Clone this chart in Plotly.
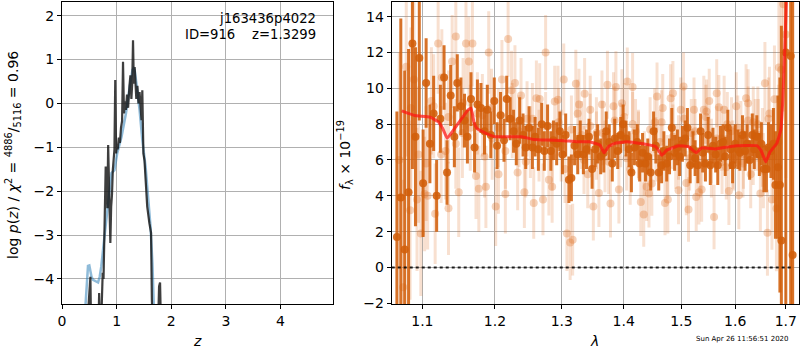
import plotly.graph_objects as go

# ---------------- left panel: log p(z) ----------------
PZ_Z = [0.470, 0.490, 0.505, 0.520, 0.530, 0.600, 0.670, 0.680, 0.690, 0.720,
        0.735, 0.745, 0.760, 0.775, 0.790, 0.800, 0.815, 0.830, 0.845, 0.860,
        0.870, 0.885, 0.900, 0.915, 0.930, 0.945, 0.960, 0.975, 0.990, 1.005,
        1.020, 1.040, 1.060, 1.080, 1.100, 1.117, 1.135, 1.150, 1.170, 1.190,
        1.210, 1.235, 1.252, 1.270, 1.285, 1.300, 1.315, 1.330, 1.345, 1.360,
        1.380, 1.400, 1.420, 1.440, 1.455, 1.470, 1.490, 1.510, 1.530, 1.560,
        1.600, 1.630, 1.645, 1.660, 1.760, 1.777, 1.795, 1.810]
PZ_LOGP = [-4.9, -4.6, -4.3, -3.95, -4.9, -5.5, -4.9, -4.32, -4.9, -4.9,
           -4.24, -3.86, -4.0, -2.88, -2.12, -1.44, -1.74, -2.39, -0.95, -1.9,
           -2.95, -3.18, -2.35, -2.08, -1.52, -1.17, -1.05, 0.53, -1.14, -0.95,
           -1.05, -0.78, -0.90, -0.55, -0.40, 0.95, -0.23, 0.05, -0.15, 0.20,
           -0.10, 0.40, 0.64, 0.10, 0.45, 1.44, 0.45, 0.83, 0.30, 0.10,
           0.40, 0.00, 0.26, -0.20, -0.38, 0.30, -1.14, -1.30, -1.74, -2.35,
           -2.73, -2.95, -4.47, -5.0, -5.0, -4.17, -4.08, -5.0]
SMOOTH_Z = [0.430, 0.455, 0.476, 0.500, 0.540, 0.568, 0.620, 0.660, 0.690, 0.720,
            0.750, 0.780, 0.840, 0.905, 0.960, 1.010, 1.090, 1.170, 1.240, 1.290,
            1.310, 1.330, 1.370, 1.420, 1.470, 1.530, 1.575, 1.620, 1.655, 1.680]
SMOOTH_LOGP = [-4.6, -4.0, -3.70, -3.69, -3.95, -4.02, -4.06, -4.08, -3.95, -3.71,
               -3.35, -3.03, -2.35, -1.59, -1.52, -1.14, -0.76, -0.23, 0.38, 0.76,
               0.80, 0.76, 0.38, -0.15, -0.83, -1.44, -2.12, -2.80, -3.64, -4.6]

# ---------------- right panel: spectrum ----------------
DARK_WAVE = [1.067, 1.072, 1.077, 1.082, 1.087, 1.091, 1.096, 1.101, 1.105, 1.110,
             1.115, 1.119, 1.124, 1.129, 1.133, 1.138, 1.143, 1.147, 1.152, 1.157,
             1.161, 1.166, 1.171, 1.175, 1.180, 1.185, 1.189, 1.194, 1.199, 1.203,
             1.208, 1.213, 1.217, 1.222, 1.227, 1.231, 1.236, 1.241, 1.245, 1.250,
             1.255, 1.259, 1.264, 1.269, 1.273, 1.278, 1.283, 1.287, 1.292, 1.297,
             1.301, 1.306, 1.311, 1.315, 1.320, 1.325, 1.329, 1.334, 1.339, 1.343,
             1.348, 1.353, 1.357, 1.362, 1.367, 1.371, 1.376, 1.381, 1.385, 1.390,
             1.395, 1.399, 1.404, 1.409, 1.413, 1.418, 1.423, 1.427, 1.432, 1.437,
             1.441, 1.446, 1.451, 1.455, 1.460, 1.465, 1.469, 1.474, 1.479, 1.483,
             1.488, 1.493, 1.497, 1.502, 1.507, 1.511, 1.516, 1.521, 1.525, 1.530,
             1.535, 1.539, 1.544, 1.549, 1.553, 1.558, 1.563, 1.567, 1.572, 1.577,
             1.581, 1.586, 1.591, 1.595, 1.600, 1.605, 1.609, 1.614, 1.619, 1.623,
             1.628, 1.633, 1.637, 1.642, 1.647, 1.651, 1.656, 1.661, 1.665, 1.670,
             1.675, 1.679, 1.684, 1.688, 1.691, 1.700, 1.710, 1.714]
DARK_FLUX = [1.7, 3.9, 1.0, 4.2, 12.5, 7.3, 11.7, 4.7, 10.3, 6.9,
             8.6, 4.0, 8.3, 10.6, 5.3, 9.6, 7.3, 10.3, 9.0, 8.2,
             7.3, 9.4, 6.7, 9.1, 8.9, 7.6, 8.8, 7.4, 9.3, 6.8,
             8.5, 7.1, 9.4, 8.3, 7.6, 6.9, 8.2, 7.4, 6.7, 7.8,
             6.7, 7.3, 6.6, 8.0, 6.5, 7.9, 6.5, 7.1, 6.9, 7.6,
             6.3, 7.4, 4.9, 5.0, 6.8, 6.3, 7.2, 6.3, 6.6, 7.3,
             5.5, 6.6, 6.9, 6.2, 6.4, 7.6, 7.0, 5.8, 7.2, 6.5,
             7.4, 8.0, 7.2, 6.6, 5.3, 6.7, 7.0, 5.8, 6.4, 5.8,
             6.2, 5.3, 7.6, 6.8, 5.3, 5.7, 6.5, 5.8, 6.2, 7.8,
             6.4, 6.7, 6.2, 6.9, 7.2, 7.8, 5.7, 6.6, 6.1, 5.7,
             7.6, 6.4, 5.8, 7.4, 5.7, 6.8, 6.3, 5.7, 6.9, 7.0,
             6.2, 7.8, 6.6, 5.7, 6.9, 6.6, 6.4, 7.4, 6.5, 6.9,
             6.0, 7.4, 6.6, 7.3, 6.3, 6.9, 5.5, 5.5, 6.7, 6.5,
             6.9, 4.6, 5.6, 4.6, 1.5, 12.0, 11.8, 0.7]
DARK_ERR = [7.0, 10.0, 10.0, 8.0, 7.0, 5.0, 3.5, 3.0, 2.5, 2.2,
            2.1, 2.0, 1.9, 1.8, 1.8, 1.7, 1.7, 1.6, 1.6, 1.5,
            1.5, 1.5, 1.4, 1.4, 1.4, 1.3, 1.4, 1.3, 1.3, 1.3,
            1.3, 1.2, 1.3, 1.2, 1.2, 1.2, 1.3, 1.2, 1.2, 1.2,
            1.2, 1.1, 1.2, 1.2, 1.1, 1.2, 1.1, 1.1, 1.2, 1.1,
            1.1, 1.2, 1.3, 1.3, 1.1, 1.1, 1.0, 1.1, 1.1, 1.0,
            1.1, 1.0, 1.1, 1.0, 1.1, 1.1, 1.0, 1.0, 1.1, 1.0,
            1.0, 1.1, 1.0, 1.0, 1.1, 1.0, 1.0, 1.0, 1.1, 1.0,
            1.0, 1.0, 1.1, 1.0, 1.0, 1.0, 1.1, 1.0, 1.0, 1.1,
            1.0, 1.0, 1.1, 1.0, 1.0, 1.1, 1.0, 1.0, 1.0, 1.0,
            1.0, 1.1, 1.0, 1.0, 1.1, 1.0, 1.0, 1.1, 1.0, 1.0,
            1.1, 1.0, 1.1, 1.0, 1.1, 1.1, 1.0, 1.1, 1.1, 1.1,
            1.1, 1.2, 1.1, 1.2, 1.2, 1.2, 1.3, 1.3, 1.4, 1.5,
            2.0, 3.0, 4.0, 6.0, 12.0, 15.0, 15.0, 15.0]

LIGHT_WAVE = [1.070, 1.075, 1.079, 1.084, 1.089, 1.093, 1.098, 1.103, 1.107, 1.112,
              1.117, 1.121, 1.126, 1.131, 1.135, 1.140, 1.145, 1.149, 1.154, 1.159,
              1.163, 1.168, 1.173, 1.177, 1.182, 1.187, 1.191, 1.196, 1.201, 1.205,
              1.210, 1.215, 1.219, 1.224, 1.229, 1.233, 1.238, 1.243, 1.247, 1.252,
              1.257, 1.261, 1.266, 1.271, 1.275, 1.280, 1.285, 1.289, 1.294, 1.299,
              1.303, 1.308, 1.313, 1.317, 1.322, 1.327, 1.331, 1.336, 1.341, 1.345,
              1.350, 1.355, 1.359, 1.364, 1.369, 1.373, 1.378, 1.383, 1.387, 1.392,
              1.397, 1.401, 1.406, 1.411, 1.415, 1.420, 1.425, 1.429, 1.434, 1.439,
              1.443, 1.448, 1.453, 1.457, 1.462, 1.467, 1.471, 1.476, 1.481, 1.485,
              1.490, 1.495, 1.499, 1.504, 1.509, 1.513, 1.518, 1.523, 1.527, 1.532,
              1.537, 1.541, 1.546, 1.551, 1.555, 1.560, 1.565, 1.569, 1.574, 1.579,
              1.583, 1.588, 1.593, 1.597, 1.602, 1.607, 1.611, 1.616, 1.621, 1.625,
              1.630, 1.635, 1.639, 1.644, 1.649, 1.653, 1.658, 1.663, 1.667, 1.672,
              1.677, 1.681, 1.686, 1.691, 1.695, 1.700]
LIGHT_FLUX = [6.0, -1.1, 11.2, 3.2, 10.5, 3.8, 1.9, 4.1, 4.0, 9.3,
              3.0, 12.5, 10.6, 6.5, 3.3, 11.5, 12.9, 4.2, 7.5, 12.5,
              11.5, 12.5, 5.1, 4.4, 8.5, 4.5, 12.0, 7.2, 3.4, 5.2,
              10.5, 4.1, 12.75, 9.9, 10.3, 5.3, 9.6, 4.2, 8.3, 7.0,
              3.6, 9.45, 9.4, 3.8, 12.0, 4.9, 4.5, 9.26, 9.36, 6.8,
              10.5, 1.9, 1.4, 1.55, 10.25, 9.1, 7.4, 9.7, 5.2, 8.8,
              3.4, 7.5, 4.16, 9.1, 6.2, 10.2, 3.57, 9.0, 10.07, 4.35,
              9.17, 8.4, 10.38, 5.5, 10.07, 7.6, 6.8, 3.66, 2.95, 4.5,
              4.13, 4.69, 8.1, 9.54, 7.0, 8.9, 3.6, 3.8, 9.45, 9.73,
              6.2, 4.31, 8.8, 10.1, 4.72, 3.23, 7.5, 8.8, 3.94, 4.2,
              4.35, 8.8, 8.7, 9.3, 5.8, 2.82, 9.73, 8.95, 7.2, 8.8,
              5.6, 4.27, 7.6, 6.1, 9.0, 4.03, 7.5, 6.3, 9.45, 9.17,
              5.2, 8.1, 7.4, 8.0, 4.13, 6.7, 10.29, 1.94, 8.6, 3.79,
              9.39, 3.29, 11.16, 11.04, 14.7, 13.0]
LIGHT_ERR = [6.0, 6.0, 5.0, 5.0, 4.5, 4.0, 3.5, 3.2, 3.0, 3.0,
             2.8, 2.8, 2.7, 2.7, 2.6, 2.6, 2.6, 2.5, 2.5, 2.5,
             2.5, 2.4, 2.4, 2.4, 2.3, 2.3, 2.3, 2.3, 2.2, 2.2,
             2.2, 2.2, 2.1, 2.2, 2.1, 2.1, 2.1, 2.0, 2.1, 2.0,
             2.0, 2.1, 2.0, 2.0, 2.1, 2.0, 2.0, 2.0, 1.9, 2.0,
             2.0, 2.1, 2.1, 2.0, 1.9, 2.0, 1.9, 2.0, 1.9, 1.9,
             1.9, 2.0, 1.9, 1.9, 2.0, 1.9, 1.9, 1.9, 2.0, 1.9,
             1.9, 1.9, 1.9, 2.0, 1.9, 1.8, 1.9, 1.9, 1.8, 1.9,
             1.9, 1.8, 1.9, 1.9, 1.8, 1.9, 1.8, 1.9, 1.9, 1.8,
             1.8, 1.9, 1.8, 1.9, 1.8, 1.8, 1.9, 1.8, 1.9, 1.8,
             1.8, 1.9, 1.8, 1.8, 1.9, 1.8, 1.9, 1.8, 1.8, 1.9,
             1.8, 1.9, 1.9, 1.8, 1.9, 1.9, 1.8, 1.9, 1.9, 1.9,
             1.9, 2.0, 2.0, 2.1, 2.1, 2.2, 2.3, 2.4, 2.6, 2.8,
             3.0, 3.5, 4.0, 5.0, 6.0, 8.0]

LIGHT2_WAVE = [1.085, 1.095, 1.105, 1.115, 1.125, 1.135, 1.145, 1.155, 1.165, 1.175,
               1.185, 1.195, 1.205, 1.215, 1.225, 1.235, 1.245, 1.255, 1.265, 1.275,
               1.285, 1.295, 1.305, 1.315, 1.325, 1.335, 1.345, 1.355, 1.365, 1.375,
               1.385, 1.395, 1.405, 1.415, 1.425, 1.435, 1.445, 1.455, 1.465, 1.475,
               1.485, 1.495, 1.505, 1.515, 1.525, 1.535, 1.545, 1.555, 1.565, 1.575,
               1.585, 1.595, 1.605, 1.615, 1.625, 1.635, 1.645, 1.655, 1.665, 1.675,
               1.685]
LIGHT2_FLUX = [8.9, 6.3, 5.8, 9.0, 6.3, 8.4, 6.9, 9.2, 7.8, 8.6,
               6.2, 8.9, 7.8, 6.5, 8.2, 7.6, 5.9, 8.3, 6.8, 7.9,
               6.2, 8.1, 5.5, 7.7, 8.6, 6.0, 7.9, 6.8, 7.5, 5.9,
               8.2, 7.4, 6.1, 8.0, 6.9, 5.8, 7.7, 6.6, 8.1, 5.6,
               7.3, 6.7, 8.3, 6.1, 7.6, 5.7, 8.4, 6.5, 7.2, 5.9,
               8.0, 6.3, 7.8, 5.8, 8.2, 6.6, 7.4, 5.4, 8.3, 6.2,
               7.0]
LIGHT2_ERR = [4.5, 3.8, 3.2, 2.9, 2.7, 2.6, 2.5, 2.5, 2.4, 2.3,
              2.3, 2.2, 2.2, 2.1, 2.1, 2.0, 2.0, 2.0, 2.0, 1.9,
              1.9, 1.9, 1.9, 1.9, 1.9, 1.9, 1.8, 1.9, 1.8, 1.8,
              1.9, 1.8, 1.8, 1.8, 1.9, 1.8, 1.8, 1.8, 1.8, 1.8,
              1.8, 1.8, 1.8, 1.8, 1.8, 1.8, 1.8, 1.8, 1.8, 1.8,
              1.8, 1.9, 1.8, 1.9, 1.9, 2.0, 2.0, 2.1, 2.3, 2.6,
              3.2]

MODEL_WAVE = [1.0732, 1.0900, 1.1102, 1.1210, 1.1270, 1.1332, 1.1402, 1.1500, 1.1620, 1.1661,
              1.1700, 1.1741, 1.1870, 1.2000, 1.2218, 1.2391, 1.2564, 1.2768, 1.3024, 1.3235,
              1.3440, 1.3609, 1.3675, 1.3745, 1.3850, 1.4050, 1.4350, 1.4550, 1.4654, 1.4741,
              1.4950, 1.5130, 1.5270, 1.5372, 1.5610, 1.5760, 1.6020, 1.6420, 1.6500, 1.6597,
              1.6683, 1.6818, 1.6898, 1.6939, 1.6979, 1.7006, 1.7020]
MODEL_FLUX = [8.74, 8.48, 8.39, 8.14, 7.77, 7.21, 7.58, 8.14, 8.80, 8.89,
              8.14, 7.77, 7.49, 7.30, 7.30, 7.30, 7.15, 7.11, 7.08, 7.02,
              7.02, 6.83, 6.40, 6.74, 6.93, 7.02, 6.89, 6.74, 6.27, 6.55,
              6.80, 6.74, 6.40, 6.68, 6.61, 6.68, 6.80, 6.80, 6.55, 5.90,
              6.46, 6.93, 7.68, 9.36, 12.2, 14.5, 16.0]

ZERO_WAVE = [1.0604, 1.7130]
ZERO_FLUX = [0.0, 0.0]

WAVE_TICKS = [1.1, 1.2, 1.3, 1.4, 1.5, 1.6, 1.7]
WAVE_TICKTEXT = ["1.1", "1.2", "1.3", "1.4", "1.5", "1.6", "1.7"]

FONT = "DejaVu Sans"
DARK = "rgba(210,95,10,0.88)"
LIGHT_BAR = "rgba(225,115,40,0.22)"
LIGHT_MK = "rgba(225,115,40,0.32)"

fig = go.Figure()

fig.add_trace(go.Scatter(x=SMOOTH_Z, y=SMOOTH_LOGP, mode="lines",
                         line=dict(color="rgba(31,119,180,0.5)", width=2.5),
                         xaxis="x", yaxis="y", showlegend=False))
fig.add_trace(go.Scatter(x=PZ_Z, y=PZ_LOGP, mode="lines",
                         line=dict(color="rgba(20,20,20,0.82)", width=2.2),
                         xaxis="x", yaxis="y", showlegend=False))

for w, f, e in [(LIGHT_WAVE, LIGHT_FLUX, LIGHT_ERR), (LIGHT2_WAVE, LIGHT2_FLUX, LIGHT2_ERR)]:
    fig.add_trace(go.Scatter(x=w, y=f, mode="markers",
                             marker=dict(color=LIGHT_MK, size=8, line=dict(width=0)),
                             error_y=dict(type="data", array=e, color=LIGHT_BAR,
                                          thickness=3, width=0),
                             xaxis="x2", yaxis="y2", showlegend=False))

fig.add_trace(go.Scatter(x=DARK_WAVE, y=DARK_FLUX, mode="markers",
                         marker=dict(color=DARK, size=8, line=dict(width=0)),
                         error_y=dict(type="data", array=DARK_ERR, color=DARK,
                                      thickness=3, width=0),
                         xaxis="x2", yaxis="y2", showlegend=False))

fig.add_trace(go.Scatter(x=MODEL_WAVE, y=MODEL_FLUX, mode="lines",
                         line=dict(color="rgba(255,20,20,0.72)", width=3, shape="spline", smoothing=0.3),
                         xaxis="x2", yaxis="y2", showlegend=False))

fig.add_trace(go.Scatter(x=ZERO_WAVE, y=ZERO_FLUX, mode="lines",
                         line=dict(color="rgba(0,0,0,0.85)", width=2, dash="dot"),
                         xaxis="x2", yaxis="y2", showlegend=False))

axis_common = dict(showline=True, linecolor="black", linewidth=1.2, mirror=True,
                   ticks="outside", ticklen=4, tickwidth=1, tickcolor="black",
                   showgrid=True, gridcolor="#b0b0b0", gridwidth=1, zeroline=False,
                   automargin=False,
                   tickfont=dict(family=FONT, size=14, color="black"))

fig.update_layout(
    width=800, height=350,
    autosize=False,
    margin=dict(l=62, r=1, t=2, b=46, autoexpand=False),
    paper_bgcolor="white", plot_bgcolor="white",
    font=dict(family=FONT, size=14, color="black"),
    xaxis=dict(domain=[0, 0.3681], range=[0, 4.966], tickvals=[0, 1, 2, 3, 4],
               anchor="y", **axis_common),
    yaxis=dict(domain=[0, 1], range=[-4.57, 2.31], tickvals=[-4, -3, -2, -1, 0, 1, 2],
               anchor="x", **axis_common),
    xaxis2=dict(domain=[0.4474, 1], type="log",
                range=[0.02547, 0.23731], tickvals=WAVE_TICKS, ticktext=WAVE_TICKTEXT,
                anchor="y2", **axis_common),
    yaxis2=dict(domain=[0, 1], range=[-2.04, 14.82], tickvals=[-2, 0, 2, 4, 6, 8, 10, 12, 14],
                anchor="x2", **axis_common),
)

ann = [
    dict(text="j163436p4022", x=0.3478, y=0.9440, xref="paper", yref="paper",
         xanchor="right", yanchor="middle", showarrow=False, font=dict(size=13.2)),
    dict(text="ID=916\u00a0\u00a0\u00a0\u00a0z=1.3299", x=0.3478, y=0.8930, xref="paper", yref="paper",
         xanchor="right", yanchor="middle", showarrow=False, font=dict(size=13.2)),
    dict(text="log <i>p</i>(<i>z</i>) / <i>χ</i><sup>2</sup> = <sup>4886</sup>/<sub>5116</sub> = 0.96",
         x=-0.0665, y=0.4934, xref="paper", yref="paper", textangle=-90,
         xanchor="center", yanchor="middle", showarrow=False, font=dict(size=14)),
    dict(text="<i>f</i><sub>λ</sub> × 10<sup>−19</sup>",
         x=0.384, y=0.4934, xref="paper", yref="paper", textangle=-90,
         xanchor="center", yanchor="middle", showarrow=False, font=dict(size=14)),
    dict(text="<i>z</i>", x=0.184, y=-0.1225, xref="paper", yref="paper",
         xanchor="center", yanchor="middle", showarrow=False, font=dict(size=14)),
    dict(text="<i>λ</i>", x=0.7232, y=-0.1225, xref="paper", yref="paper",
         xanchor="center", yanchor="middle", showarrow=False, font=dict(size=14)),
    dict(text="Sun Apr 26 11:56:51 2020", x=0.9233, y=-0.116, xref="paper", yref="paper",
         xanchor="center", yanchor="middle", showarrow=False, font=dict(size=7)),
]
fig.update_layout(annotations=ann)

fig.write_html("out.html", config={"displayModeBar": False},
               post_script="document.body.style.margin='0';document.body.style.padding='0';")
